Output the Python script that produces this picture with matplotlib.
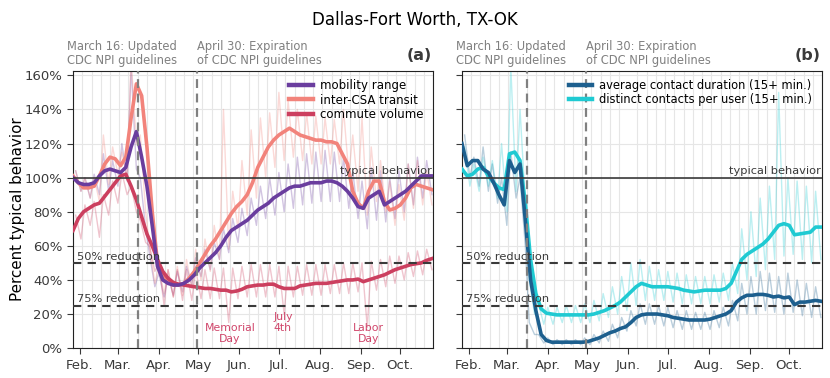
import numpy as np
import pandas as pd
import matplotlib
matplotlib.use('Agg')
import matplotlib.pyplot as plt
import matplotlib.transforms as mtransforms

# ---- data (percent of typical behavior) ----
start = pd.Timestamp('2020-01-27')
smooth_days = np.arange(0, 273, 4)          # 7-day averages, read every 4 days
n_weeks = 39                                 # raw daily data, weekday high / weekend low per week

mobility_smooth = [100, 97, 96, 96, 97, 101, 104, 105, 104, 103,
                   106, 118, 127, 112, 95, 72, 48, 40, 38, 37,
                   37, 38, 40, 43, 47, 50, 53, 56, 60, 65,
                   69, 71, 73, 75, 78, 81, 83, 85, 88, 90,
                   92, 94, 95, 95, 96, 97, 97, 97, 98, 98,
                   97, 95, 92, 88, 83, 82, 88, 90, 92, 84,
                   86, 88, 90, 92, 95, 98, 101, 101, 101]
transit_smooth = [101, 97, 94, 94, 95, 101, 108, 112, 111, 107,
                  112, 135, 155, 148, 118, 80, 50, 42, 39, 37,
                  37, 38, 41, 45, 50, 55, 60, 64, 69, 74,
                  79, 83, 86, 90, 97, 106, 112, 118, 122, 125,
                  127, 129, 127, 125, 124, 123, 122, 122, 121, 121,
                  120, 114, 108, 92, 85, 82, 92, 98, 98, 86,
                  81, 82, 84, 88, 94, 96, 95, 94, 93]
commute_smooth = [69, 76, 80, 82, 84, 85, 89, 93, 97, 101,
                  102, 95, 87, 77, 67, 60, 52, 45, 41, 38.5,
                  37.5, 37, 36.5, 36, 35.5, 35, 35, 34.5, 34, 34,
                  33, 33.5, 34.5, 36, 36.5, 37, 37, 37.5, 37.5, 36,
                  35, 35, 35, 36.5, 37, 37.5, 38, 38, 38, 38.5,
                  39, 39.5, 40, 40, 40.5, 39, 40, 41, 42, 43,
                  44.5, 46, 47, 48, 49, 49.5, 50, 51.5, 52.5]
duration_smooth = [120, 107, 110, 110, 105, 103, 97, 90, 84, 110,
                   103, 108, 75, 40, 22, 8, 4.5, 3.5, 3.5, 3.5,
                   3.5, 3.5, 3.5, 3.5, 4, 5, 6, 7.5, 9, 10,
                   11.5, 12.5, 15, 18, 19.5, 20, 20, 20, 19.5, 19,
                   18, 17.5, 17, 16.5, 16.5, 16.5, 16.5, 17, 18, 19,
                   20, 22, 27, 29.5, 31, 31, 31.5, 31.5, 31, 30,
                   30.5, 29.5, 30, 25.5, 27, 27, 27.5, 28, 27.5]
contacts_smooth = [105, 101, 102, 105, 106, 101, 97, 94, 93, 114,
                   115, 110, 85, 52, 32, 23, 20.5, 20, 19.5, 19.5,
                   19.5, 19.5, 19.5, 19.5, 19.5, 20, 21, 22, 23.5, 25,
                   27, 30, 33, 36, 38, 37, 36, 36, 36, 36,
                   35.5, 35, 34, 33.5, 33, 33.5, 34, 34, 34, 34,
                   35, 38, 45, 52, 55, 57, 59, 61, 64, 68,
                   72, 73, 72, 66.5, 67, 67.5, 68, 71, 71]

mobility_hi = [104, 100, 102, 114, 110, 120, 165, 100, 55, 44, 42, 45, 48, 53, 58, 62, 70, 76, 82, 88,
               95, 100, 103, 108, 112, 114, 115, 116, 115, 112, 104, 98, 106, 104, 100, 104, 108, 112, 110]
mobility_lo = [92, 88, 90, 92, 95, 98, 105, 70, 36, 30, 31, 33, 37, 42, 46, 52, 56, 62, 66, 72,
               76, 78, 80, 82, 84, 85, 86, 86, 86, 82, 76, 70, 75, 74, 76, 80, 84, 88, 90]
transit_hi = [104, 100, 100, 125, 118, 115, 170, 125, 60, 48, 46, 48, 52, 58, 64, 72, 140, 92, 110, 128,
              135, 138, 150, 145, 140, 138, 136, 135, 134, 140, 125, 135, 118, 110, 98, 96, 108, 110, 104]
transit_lo = [92, 88, 86, 96, 102, 100, 120, 80, 38, 32, 30, 31, 35, 40, 45, 52, 58, 70, 78, 88,
              100, 106, 110, 112, 110, 108, 108, 108, 108, 102, 92, 78, 86, 80, 72, 75, 82, 84, 84]
commute_hi = [78, 84, 86, 90, 98, 103, 95, 75, 60, 50, 46, 46, 46, 46, 46, 47, 47, 47, 48, 49,
              49, 49, 48, 48, 48, 49, 49, 49, 49, 50, 50, 50, 51, 52, 54, 54, 56, 57, 58]
commute_lo = [64, 72, 65, 78, 85, 90, 80, 62, 45, 25, 30, 28, 28, 29, 29, 29, 15, 29, 30, 30,
              30, 30, 20, 30, 31, 31, 31, 32, 32, 32, 33, 12, 34, 36, 38, 40, 42, 43, 46]
duration_hi = [125, 112, 118, 108, 100, 115, 100, 15, 8, 6, 5, 5, 5, 6, 8, 10, 14, 18, 22, 26,
               26, 25, 24, 22, 22, 21, 21, 22, 24, 28, 38, 42, 45, 44, 42, 44, 40, 38, 36]
duration_lo = [100, 95, 92, 85, 72, 88, 60, 8, 3, 2, 2, 2, 2, 2, 3, 4, 6, 10, 13, 14,
               14, 13, 12, 11, 11, 11, 11, 12, 13, 16, 20, 20, 22, 21, 20, 21, 19, 18, 18]
contacts_hi = [118, 108, 112, 110, 120, 165, 140, 40, 26, 24, 24, 25, 25, 26, 28, 32, 36, 42, 50, 52,
               48, 46, 45, 44, 43, 42, 42, 43, 44, 50, 70, 80, 88, 95, 150, 100, 98, 95, 92]
contacts_lo = [95, 92, 95, 88, 80, 92, 85, 20, 14, 14, 15, 15, 15, 15, 16, 18, 20, 22, 25, 28,
               28, 28, 27, 26, 26, 26, 26, 27, 28, 32, 40, 42, 46, 52, 54, 55, 52, 50, 52]

month_labels = ['Feb.', 'Mar.', 'Apr.', 'May', 'Jun.', 'Jul.', 'Aug.', 'Sep.', 'Oct.']
holidays = [('2020-05-25', 'Memorial\nDay', 14.5), ('2020-07-04', 'July\n4th', 21), ('2020-09-07', 'Labor\nDay', 14.5)]

# ---- helpers ----
smooth_dates = start + pd.to_timedelta(smooth_days, unit='D')
raw_days = np.ravel(np.column_stack([np.arange(n_weeks) * 7 + 2, np.arange(n_weeks) * 7 + 6]))
raw_dates = start + pd.to_timedelta(raw_days, unit='D')


def interleave(hi, lo):
    return np.ravel(np.column_stack([hi, lo]))


C_MOB, C_TRANS, C_COMM = '#6a3d9e', '#f2837b', '#cc3f5f'
C_DUR, C_CONT = '#1d5f8e', '#1fcad2'
GRAY = '#808080'
DARK = '#3a3a3a'

fig = plt.figure(figsize=(8.3, 3.78), dpi=100)
ax1 = fig.add_axes([0.088, 0.079, 0.434, 0.733])
ax2 = fig.add_axes([0.5566, 0.079, 0.434, 0.733], sharey=ax1)
fig.suptitle('Dallas-Fort Worth, TX-OK', y=0.972, fontsize=12)


def style_axis(ax, label):
    ax.set_xlim(start, pd.Timestamp('2020-10-26'))
    ax.set_ylim(0, 162.5)
    ax.set_yticks(np.arange(0, 161, 20))
    ax.set_yticklabels([f'{v}%' for v in range(0, 161, 20)])
    ax.set_xticks(pd.date_range('2020-02-01', '2020-10-01', freq='MS'))
    ax.set_xticklabels(month_labels)
    ax.set_xticks(pd.date_range('2020-01-27', '2020-10-26', freq='7D'), minor=True)
    ax.tick_params(axis='both', labelsize=9.5, colors=DARK, length=4)
    ax.tick_params(axis='x', which='minor', length=0)
    ax.grid(axis='y', color='#e6e6e6', lw=0.8)
    ax.grid(axis='x', which='minor', color='#e6e6e6', lw=0.8)
    ax.set_axisbelow(True)
    for s in ax.spines.values():
        s.set_color('#222222')

    yt = mtransforms.blended_transform_factory(ax.transAxes, ax.transData)
    ax.axhline(100, color=DARK, lw=1.2, zorder=5)
    ax.axhline(50, color=DARK, lw=1.5, ls=(0, (4, 3)), zorder=5)
    ax.axhline(25, color=DARK, lw=1.5, ls=(0, (4, 3)), zorder=5)
    ax.text(0.995, 100.8, 'typical behavior', transform=yt, ha='right', va='bottom',
            fontsize=8.2, color=DARK, zorder=6)
    ax.text(0.01, 50.8, '50% reduction', transform=yt, ha='left', va='bottom',
            fontsize=8.2, color=DARK, zorder=6)
    ax.text(0.01, 25.8, '75% reduction', transform=yt, ha='left', va='bottom',
            fontsize=8.2, color=DARK, zorder=6)

    for d in ['2020-03-16', '2020-04-30']:
        ax.axvline(pd.Timestamp(d), color=GRAY, lw=1.6, ls=(0, (4, 2.5)), zorder=5)
    xt = mtransforms.blended_transform_factory(ax.transData, ax.transAxes)
    ax.text(pd.Timestamp('2020-03-04'), 1.015, 'March 16: Updated\nCDC NPI guidelines', transform=xt,
            ha='center', va='bottom', fontsize=8.3, color=GRAY, linespacing=1.05)
    ax.text(pd.Timestamp('2020-04-30'), 1.015, 'April 30: Expiration\nof CDC NPI guidelines', transform=xt,
            ha='left', va='bottom', fontsize=8.3, color=GRAY, linespacing=1.05)
    ax.text(0.995, 1.03, label, transform=ax.transAxes, ha='right', va='bottom',
            fontsize=11.5, fontweight='bold', color=DARK)


style_axis(ax1, '(a)')
style_axis(ax2, '(b)')

# panel (a)
for hi, lo, c in [(mobility_hi, mobility_lo, C_MOB), (transit_hi, transit_lo, C_TRANS), (commute_hi, commute_lo, C_COMM)]:
    ax1.plot(raw_dates, interleave(hi, lo), color=c, lw=1.0, alpha=0.3, zorder=2)
ax1.plot(smooth_dates, mobility_smooth, color=C_MOB, lw=2.6, label='mobility range', zorder=4)
ax1.plot(smooth_dates, transit_smooth, color=C_TRANS, lw=2.6, label='inter-CSA transit', zorder=3)
ax1.plot(smooth_dates, commute_smooth, color=C_COMM, lw=2.6, label='commute volume', zorder=3)
leg1 = ax1.legend(loc='upper right', bbox_to_anchor=(0.995, 1.0), frameon=False, fontsize=8.5,
                  handlelength=2.0, handletextpad=0.6, borderaxespad=0.3, labelspacing=0.1)
for h in leg1.get_lines():
    h.set_linewidth(3.2)
for d, txt, y in holidays:
    ax1.text(pd.Timestamp(d), y, txt, ha='center', va='top', fontsize=7.8, color='#d0456a',
             linespacing=1.05, zorder=6)
ax1.set_ylabel('Percent typical behavior', fontsize=10.9, labelpad=0)

# panel (b)
for hi, lo, c in [(duration_hi, duration_lo, C_DUR), (contacts_hi, contacts_lo, C_CONT)]:
    ax2.plot(raw_dates, interleave(hi, lo), color=c, lw=1.0, alpha=0.3, zorder=2)
ax2.plot(smooth_dates, duration_smooth, color=C_DUR, lw=2.6, label='average contact duration (15+ min.)', zorder=4)
ax2.plot(smooth_dates, contacts_smooth, color=C_CONT, lw=2.6, label='distinct contacts per user (15+ min.)', zorder=3)
leg2 = ax2.legend(loc='upper right', bbox_to_anchor=(0.995, 1.0), frameon=False, fontsize=8.3,
                  handlelength=2.0, handletextpad=0.6, borderaxespad=0.3, labelspacing=0.1)
for h in leg2.get_lines():
    h.set_linewidth(3.2)
plt.setp(ax2.get_yticklabels(), visible=False)

fig.savefig('out.png', dpi=100)
